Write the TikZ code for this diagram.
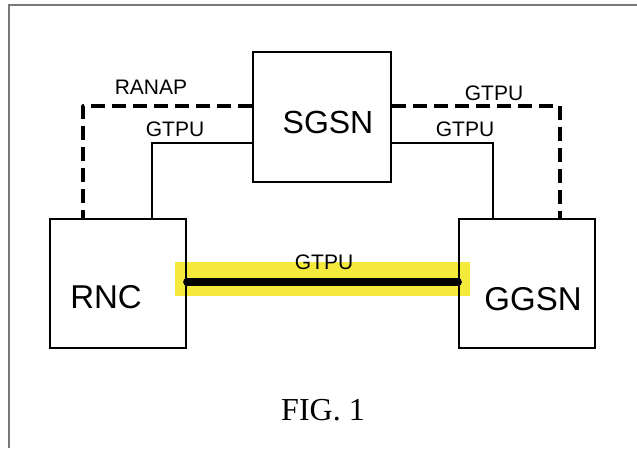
\documentclass[tikz,border=0pt]{standalone}
\usepackage{fontspec}
\setmainfont{Liberation Sans}
\newfontfamily\figfont{Liberation Serif}
\definecolor{hl}{RGB}{245,233,60}
\definecolor{framegray}{RGB}{120,120,120}
\tikzset{
  netbox/.style={draw=black, line width=2.2pt, rectangle, inner sep=0pt},
  biglabel/.style={font=\fontsize{33}{38}\selectfont, inner sep=0pt},
  smalllabel/.style={font=\fontsize{21}{25}\selectfont, inner sep=0pt},
  ctrlline/.style={draw=black, line width=3.6pt, dash pattern=on 14pt off 7pt, line join=round},
  userline/.style={draw=black, line width=2.8pt, line join=miter},
  tunnel/.style={draw=black, line width=8pt, line cap=round},
}
\begin{document}
\begin{tikzpicture}[x=1pt, y=-1pt]
\useasboundingbox (0,0) rectangle (637,448);
% frame
\draw[framegray, line width=2pt] (637,4.5) -- (9,4.5) -- (9,448);
% highlight
\fill[hl] (175,262) rectangle (470,296);
% boxes
\node[netbox, minimum width=138pt, minimum height=130pt] (sgsn) at (322,117) {};
\node[netbox, minimum width=136pt, minimum height=129pt] (rnc) at (118,283.5) {};
\node[netbox, minimum width=136pt, minimum height=129pt] (ggsn) at (527,283.5) {};
\node[biglabel, font=\fontsize{32}{36}\selectfont] (sgsnt) at (328,122) {SGSN};
\node[biglabel] (rnct) at (106,297) {RNC};
\node[biglabel] (ggsnt) at (533,299) {GGSN};
% connectors
\draw[ctrlline] (sgsn.west |- 0,106) -| (83,0 |- rnc.north);
\draw[userline] (sgsn.west |- 0,143) -| (152,0 |- rnc.north);
\draw[ctrlline] (sgsn.east |- 0,106) -| (560,0 |- ggsn.north);
\draw[userline] (sgsn.east |- 0,143) -| (493,0 |- ggsn.north);
\draw[tunnel] (rnc.east |- 0,282) -- (ggsn.west |- 0,282);
% labels
\node[smalllabel] (l1) at (151,87) {RANAP};
\node[smalllabel] (l2) at (494,93) {GTPU};
\node[smalllabel] (l3) at (175,129) {GTPU};
\node[smalllabel] (l4) at (465,129) {GTPU};
\node[smalllabel] (l5) at (324,262) {GTPU};
\node[inner sep=0pt, font=\figfont\fontsize{32}{36}\selectfont] (fig) at (323,410) {FIG. 1};
\end{tikzpicture}
\end{document}
